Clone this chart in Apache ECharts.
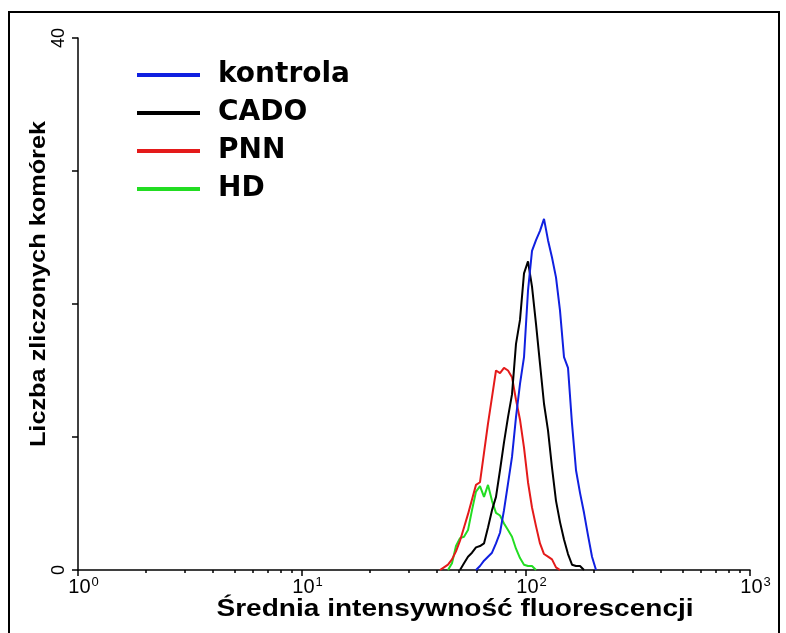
<!DOCTYPE html>
<html>
<head>
<meta charset="utf-8">
<script src="https://cdn.jsdelivr.net/npm/echarts@6/dist/echarts.min.js"></script>
<style>
  html, body { margin: 0; padding: 0; background: #fff; }
  #chart { width: 786px; height: 633px; }
</style>
</head>
<body>
<div id="chart"></div>
<script>
// Fluorescence channel centres (log scale) and cell counts per channel
const channels = [41.31, 43.04, 44.85, 46.73, 48.69, 50.74, 52.87, 55.09, 57.40, 59.81,
  62.32, 64.94, 67.66, 70.50, 73.46, 76.55, 79.76, 83.11, 86.60, 90.23,
  94.02, 97.97, 102.08, 106.37, 110.83, 115.48, 120.33, 125.38, 130.65, 136.13,
  141.85, 147.80, 154.01, 160.47, 167.21, 174.23, 181.54, 189.17, 197.11, 205.38, 214.00];

const kontrola = [null, null, null, null, null, null, null, null, null, 0,
  0.3, 0.7, 1.0, 1.3, 2.0, 2.8, 4.5, 6.5, 8.5, 11.5,
  14, 16, 21, 24, 24.8, 25.5, 26.4, 24.8, 23.5, 22,
  19.5, 16, 15.2, 11, 7.5, 5.8, 4.3, 2.6, 1.0, 0, null];

const cado = [null, null, null, null, null, 0, 0.5, 1.0, 1.3, 1.7,
  1.8, 2.0, 3.2, 4.5, 5.5, 7.5, 9.6, 11.5, 13.2, 17,
  18.8, 22.3, 23.2, 21.3, 18.5, 15.5, 12.5, 10.5, 7.7, 5.2,
  3.6, 2.3, 1.2, 0.4, 0.3, 0.3, 0, null, null, null, null];

const pnn = [0, 0.2, 0.4, 0.8, 1.4, 2.2, 3.2, 4.2, 5.3, 6.4,
  6.6, 8.8, 11, 13, 15, 14.8, 15.2, 15, 14.5, 12.8,
  11.3, 9.2, 6.6, 4.7, 3.3, 2, 1.2, 1, 0.8, 0.2,
  0, null, null, null, null, null, null, null, null, null, null];

const hd = [null, null, 0, 0.5, 1.8, 2.4, 2.5, 3.0, 4.5, 5.9,
  6.3, 5.5, 6.4, 5.2, 4.3, 4.1, 3.5, 3.0, 2.5, 1.6,
  0.9, 0.4, 0.3, 0.3, 0, null, null, null, null, null,
  null, null, null, null, null, null, null, null, null, null, null];

const seriesNames = ['kontrola', 'CADO', 'PNN', 'HD'];
const seriesColors = ['#1020e0', '#000000', '#e41a1a', '#22dd22'];
const seriesCounts = [kontrola, cado, pnn, hd];

// Axis ticks and labels
const decadeTicks = [1, 10, 100, 1000];
const decadeExponents = ['0', '1', '2', '3'];
const minorTicks = [2, 3, 4, 5, 6, 7, 8, 9, 20, 30, 40, 50, 60, 70, 80, 90,
  200, 300, 400, 500, 600, 700, 800, 900];
const yLabelled = [0, 40];

const xTitle = 'Średnia intensywność fluorescencji';
const yTitle = 'Liczba zliczonych komórek';

function toPairs(counts) {
  const out = [];
  counts.forEach((c, i) => { if (c !== null) out.push([channels[i], c]); });
  return out;
}

const chart = echarts.init(document.getElementById('chart'), null, { renderer: 'canvas' });

const gridBox = { left: 78, top: 38, width: 672, height: 532 };

const option = {
  animation: false,
  backgroundColor: '#ffffff',
  textStyle: { fontFamily: '"Liberation Sans", Arial, sans-serif' },
  grid: { left: gridBox.left, top: gridBox.top, width: gridBox.width, height: gridBox.height, containLabel: false },
  legend: {
    data: seriesNames,
    orient: 'vertical',
    left: 137,
    top: 60,
    padding: 0,
    itemWidth: 63,
    itemHeight: 4,
    itemGap: 8,
    icon: 'rect',
    selectedMode: false,
    textStyle: {
      fontFamily: '"DejaVu Sans", sans-serif',
      fontWeight: 'bold',
      fontSize: 28,
      lineHeight: 30,
      color: '#000',
      padding: [0, 0, 0, 13]
    }
  },
  xAxis: [{
    type: 'log',
    logBase: 10,
    min: 1,
    max: 1000,
    position: 'bottom',
    axisLine: { show: true, onZero: false, lineStyle: { color: '#000', width: 1.5 } },
    axisTick: { show: true, inside: false, length: 6, customValues: decadeTicks, lineStyle: { color: '#000', width: 1.5 } },
    splitLine: { show: false },
    minorTick: { show: false },
    axisLabel: {
      show: true,
      margin: 6,
      fontSize: 20,
      color: '#000',
      customValues: decadeTicks,
      formatter: function (v) {
        const i = decadeTicks.indexOf(Math.round(v));
        return '{p|}{b|10}{s|' + decadeExponents[i] + '}';
      },
      rich: {
        p: { width: 11, fontSize: 20 },
        b: { fontSize: 20, color: '#000', fontFamily: '"Liberation Sans", Arial, sans-serif', verticalAlign: 'bottom' },
        s: { fontSize: 13, color: '#000', fontFamily: '"Liberation Sans", Arial, sans-serif', verticalAlign: 'top', padding: [0, 0, 8, 1] }
      }
    }
  }, {
    type: 'log',
    logBase: 10,
    min: 1,
    max: 1000,
    position: 'bottom',
    axisLine: { show: false },
    axisTick: { show: true, inside: false, length: 3, customValues: minorTicks, lineStyle: { color: '#000', width: 1.5 } },
    axisLabel: { show: false },
    splitLine: { show: false }
  }],
  yAxis: {
    type: 'value',
    min: 0,
    max: 40,
    interval: 10,
    axisLine: { show: true, lineStyle: { color: '#000', width: 1.5 } },
    axisTick: { show: true, inside: false, length: 6, lineStyle: { color: '#000', width: 1.5 } },
    splitLine: { show: false },
    axisLabel: {
      show: true,
      rotate: 90,
      margin: 10,
      fontSize: 18,
      color: '#000',
      formatter: function (v) { return yLabelled.indexOf(v) >= 0 ? String(v) : ''; }
    }
  },
  series: seriesNames.map((name, k) => ({
    name: name,
    type: 'line',
    xAxisIndex: 0,
    data: toPairs(seriesCounts[k]),
    showSymbol: false,
    symbol: 'none',
    color: seriesColors[k],
    lineStyle: { color: seriesColors[k], width: 2 },
    z: 10 - k
  })),
  graphic: [
    {
      type: 'rect',
      shape: { x: 9, y: 12, width: 770, height: 640 },
      style: { fill: 'none', stroke: '#000', lineWidth: 2 },
      silent: true
    },
    {
      type: 'text',
      x: 455,
      y: 610,
      scaleX: 1.22,
      style: {
        text: xTitle,
        font: 'bold 23px "Liberation Sans", Arial, sans-serif',
        fill: '#000',
        textAlign: 'center',
        textVerticalAlign: 'middle'
      }
    },
    {
      type: 'text',
      x: 39,
      y: 284,
      rotation: Math.PI / 2,
      scaleX: 1.15,
      style: {
        text: yTitle,
        font: 'bold 22px "Liberation Sans", Arial, sans-serif',
        fill: '#000',
        textAlign: 'center',
        textVerticalAlign: 'middle'
      }
    }
  ]
};

chart.setOption(option);
</script>
</body>
</html>
